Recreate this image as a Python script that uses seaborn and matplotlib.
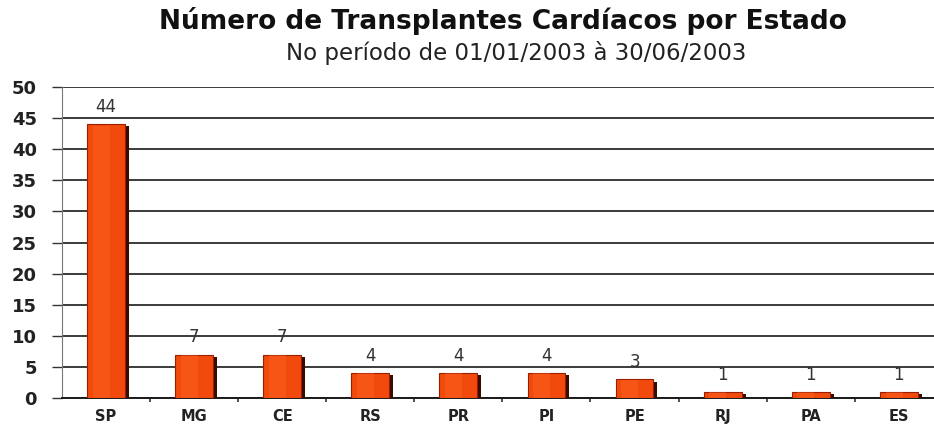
import matplotlib
matplotlib.use("Agg")
import matplotlib.pyplot as plt
from matplotlib.patches import Rectangle
import seaborn as sns
import pandas as pd

estados = ["SP", "MG", "CE", "RS", "PR", "PI", "PE", "RJ", "PA", "ES"]
transplantes = [44, 7, 7, 4, 4, 4, 3, 1, 1, 1]
y_ticks = [0, 5, 10, 15, 20, 25, 30, 35, 40, 45, 50]

sns.set_style("white")
plt.rcParams['font.family'] = ['DejaVu Sans']

df = pd.DataFrame({"estado": estados, "n": transplantes})

fig = plt.figure(figsize=(9.34, 4.24), dpi=100)
ax = fig.add_axes([0.0664, 0.061, 0.9336, 0.734])

sns.barplot(data=df, x="estado", y="n", color="#F24A0C", width=0.43,
            saturation=1, ax=ax, zorder=3, edgecolor="#9A1E00", linewidth=0.8)

# dark shadow on right side of each bar (3D look)
for p in list(ax.patches):
    x, w, h = p.get_x(), p.get_width(), p.get_height()
    ax.add_patch(Rectangle((x + w, 0), 0.045, h - 0.35, facecolor="#3A0A00",
                           edgecolor="none", zorder=2.9))
    ax.add_patch(Rectangle((x + w * 0.15, 0), w * 0.45, h * 0.995, facecolor="#FF6A2A",
                           alpha=0.35, edgecolor="none", zorder=3.1))

for p, v in zip(ax.patches[:len(transplantes)], transplantes):
    ax.text(p.get_x() + p.get_width() / 2, v + 1.3, str(v), ha="center", va="bottom",
            fontsize=12, color="#333333", zorder=5)

ax.set_ylim(0, 50)
ax.set_xlim(-0.5, 9.4)
ax.set_yticks(y_ticks)
ax.set_yticklabels([str(t) for t in y_ticks], fontsize=13, fontweight="bold", color="#222222")
ax.set_xticks(range(len(estados)))
ax.set_xticklabels(estados, fontsize=10.5, fontweight="bold", color="#222222")
ax.tick_params(axis="x", length=0, pad=8)
ax.tick_params(axis="y", length=7, width=1, color="#333333", direction="out", pad=11, left=True)
ax.set_xticks([i + 0.5 for i in range(len(estados) - 1)], minor=True)
ax.tick_params(axis="x", which="minor", length=3, width=1.2, color="#333333", direction="out", bottom=True)

ax.yaxis.grid(True, color="#1a1a1a", linewidth=1.2, zorder=0)
ax.set_axisbelow(True)
ax.set_xlabel("")
ax.set_ylabel("")
for s in ["top", "right"]:
    ax.spines[s].set_visible(False)
ax.spines["left"].set_color("#777777")
ax.spines["bottom"].set_color("#1a1a1a")
ax.spines["bottom"].set_linewidth(1.4)

fig.text(0.539, 0.950, "Número de Transplantes Cardíacos por Estado", ha="center", va="center",
         fontsize=19, fontweight="bold", color="#111111")
fig.text(0.553, 0.875, "No período de 01/01/2003 à 30/06/2003", ha="center", va="center",
         fontsize=16.5, color="#222222")

fig.savefig("out.png", dpi=100)
